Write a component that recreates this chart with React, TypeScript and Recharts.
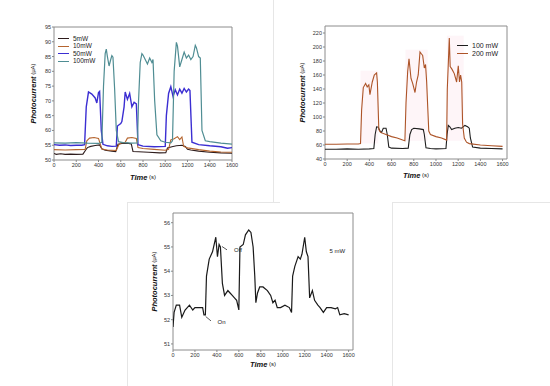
import { LineChart, Line, XAxis, YAxis, Legend, ReferenceArea, ReferenceLine, ReferenceDot } from 'recharts'

// panel A: photocurrent vs time at four powers, [time s, current µA]
const mw5A: [number, number][] = [
  [0, 52.2], [20, 51.9], [60, 52.1], [100, 51.9], [150, 52.0], [200, 51.9], [260, 52.0], [285, 53.4],
  [300, 54.2], [330, 54.6], [370, 54.9], [410, 55.1], [430, 53.8], [460, 53.3], [520, 53.0], [555, 52.8],
  [575, 55.3], [610, 55.6], [660, 55.7], [695, 55.4], [710, 52.9], [760, 52.8], [850, 52.6], [950, 52.4],
  [1005, 52.5], [1020, 54.1], [1060, 54.5], [1100, 54.8], [1150, 55.0], [1180, 54.6], [1200, 53.6],
  [1230, 53.4], [1300, 53.0], [1400, 52.6], [1500, 52.4], [1600, 52.3],
]
const mw10A: [number, number][] = [
  [0, 53.5], [100, 53.4], [200, 53.5], [280, 53.6], [295, 56.5], [320, 57.4], [360, 57.6], [400, 57.3],
  [415, 55.5], [430, 53.7], [480, 53.4], [560, 53.2], [580, 55.0], [600, 55.8], [640, 56.0], [660, 57.4],
  [700, 57.6], [740, 57.3], [755, 54.2], [800, 53.9], [900, 53.6], [1000, 53.3], [1030, 53.6], [1050, 56.8],
  [1080, 57.2], [1110, 57.9], [1130, 56.9], [1150, 57.8], [1165, 54.6], [1200, 54.1], [1300, 53.5],
  [1400, 53.0], [1500, 52.7], [1600, 52.6],
]
const mw50A: [number, number][] = [
  [0, 55.2], [50, 55.0], [100, 55.1], [150, 54.9], [200, 55.0], [250, 55.0], [275, 55.2], [290, 68],
  [310, 73], [340, 72.3], [370, 71], [385, 69.3], [400, 72.8], [410, 73.2], [425, 60], [440, 55.3],
  [480, 54.8], [520, 54.6], [560, 54.7], [570, 61.5], [600, 62.3], [610, 63], [630, 68], [640, 73],
  [660, 70.5], [680, 72.5], [700, 68], [720, 69.5], [740, 69], [755, 55.2], [800, 54.7], [900, 54.5],
  [1000, 54.6], [1010, 65], [1030, 72.5], [1050, 74.8], [1070, 71.5], [1090, 73.8], [1110, 72],
  [1130, 74], [1150, 72.6], [1170, 74.2], [1190, 73], [1210, 74], [1222, 73.5], [1240, 56],
  [1300, 55.2], [1400, 54.8], [1500, 54.5], [1560, 54], [1600, 54.2],
]
const mw100A: [number, number][] = [
  [0, 55.8], [100, 55.7], [200, 55.9], [300, 55.7], [400, 55.6], [430, 56], [445, 75], [460, 86],
  [470, 87.5], [480, 85], [495, 81.8], [510, 84], [520, 85.3], [530, 84.8], [545, 74], [560, 60],
  [580, 56.2], [620, 55.9], [700, 55.7], [750, 55.8], [760, 70], [775, 83], [790, 86], [800, 85.5],
  [820, 84], [840, 82.5], [860, 84.5], [880, 83], [890, 84], [905, 70], [925, 58.5], [960, 56.5],
  [1000, 56], [1050, 55.8], [1065, 56.5], [1080, 80], [1100, 89.8], [1110, 88.5], [1130, 81.5],
  [1150, 84], [1170, 86.5], [1190, 84.5], [1210, 85.5], [1230, 84], [1250, 85], [1270, 88.8],
  [1280, 88], [1300, 85], [1315, 84.5], [1330, 60], [1360, 56.5], [1400, 56.2], [1500, 55.7], [1600, 55.4],
]
const namesA = ['5mW', '10mW', '50mW', '100mW']

// panel B: 100 and 200 mW
const mw100B: [number, number][] = [
  [0, 54], [100, 54], [200, 54.5], [300, 54], [400, 54.5], [440, 55], [452, 75], [465, 86], [480, 85.5],
  [495, 80], [510, 78], [525, 84], [550, 84], [561, 75], [575, 57], [600, 55.5], [700, 55], [750, 55.5],
  [765, 75], [781, 82], [800, 84], [850, 83], [886, 82], [895, 75], [910, 56], [950, 55], [1000, 54.5],
  [1090, 55], [1100, 75], [1111, 88], [1125, 86], [1141, 82], [1170, 84], [1200, 85], [1230, 84],
  [1261, 88], [1285, 86], [1300, 84], [1310, 70], [1330, 57], [1400, 55.5], [1500, 55], [1600, 54.5],
]
const mw200B: [number, number][] = [
  [0, 61], [100, 61], [200, 61.5], [300, 61.5], [320, 62], [330, 110], [345, 142], [366, 148], [380, 143],
  [395, 146], [405, 132], [426, 150], [444, 160], [465, 163], [472, 150], [485, 82], [500, 78], [550, 75],
  [600, 72], [650, 70], [700, 67], [720, 66], [730, 120], [745, 165], [757, 183], [775, 155], [790, 148],
  [811, 135], [825, 150], [840, 160], [856, 193], [870, 190], [880, 188], [895, 170], [906, 175],
  [916, 150], [935, 80], [950, 75], [1000, 72], [1050, 70], [1096, 67], [1102, 140], [1112, 180],
  [1120, 213], [1128, 172], [1145, 168], [1165, 162], [1186, 150], [1201, 173], [1212, 150], [1222, 160],
  [1232, 150], [1240, 90], [1255, 70], [1275, 64], [1300, 62], [1400, 60], [1500, 59], [1600, 58],
]
const namesB = ['100 mW', '200 mW']

// panel C: 5 mW alone
const mw5C: [number, number][] = [
  [0, 51.7], [10, 52.3], [30, 52.6], [60, 52.6], [80, 52.1], [110, 52.4], [150, 52.6], [180, 52.4],
  [200, 52.5], [240, 52.5], [270, 52.5], [282, 52.2], [295, 52.2], [305, 53.8], [330, 54.5], [360, 54.8],
  [390, 55.4], [405, 54.6], [420, 55.1], [432, 55.0], [450, 53.5], [470, 53.0], [500, 53.2], [520, 53.1],
  [540, 53.0], [560, 52.9], [580, 52.8], [600, 52.4], [610, 55.0], [640, 55.1], [660, 55.5], [690, 55.7],
  [710, 55.6], [730, 55.0], [745, 53.8], [755, 52.7], [770, 53.1], [790, 53.35], [820, 53.35], [860, 53.2],
  [890, 53.0], [910, 52.7], [930, 52.8], [950, 52.5], [980, 52.5], [1020, 52.6], [1060, 52.5], [1080, 52.3],
  [1090, 53.8], [1110, 54.2], [1140, 54.6], [1160, 54.5], [1175, 54.7], [1200, 55.4], [1215, 54.8],
  [1230, 54.6], [1245, 52.9], [1270, 53.2], [1290, 52.8], [1320, 52.6], [1340, 52.5], [1370, 52.3],
  [1400, 52.5], [1440, 52.5], [1480, 52.45], [1500, 52.5], [1520, 52.2], [1560, 52.25], [1600, 52.2],
]

const timeTicks = [0, 200, 400, 600, 800, 1000, 1200, 1400, 1600]
const ticksA = [50, 55, 60, 65, 70, 75, 80, 85, 90, 95]
const ticksB = [40, 60, 80, 100, 120, 140, 160, 180, 200, 220]
const ticksC = [51, 52, 53, 54, 55, 56]

const toRows = (pts: [number, number][]) => pts.map(([t, v]) => ({ t, v }))

const FONT = '"Liberation Sans", Arial, sans-serif'
const tickStyle = { fontSize: 5.5, fill: '#333', fontFamily: FONT }

function YTitle(props: any) {
  const { viewBox, dx } = props
  const cx = viewBox.x + dx
  const cy = viewBox.y + viewBox.height / 2
  return (
    <text x={cx} y={cy} transform={`rotate(-90 ${cx} ${cy})`} textAnchor="middle" dominantBaseline="central"
      fontFamily={FONT} fill="#111">
      <tspan fontSize={7.5} fontWeight="bold" fontStyle="italic">Photocurrent</tspan>
      <tspan fontSize={6}> (μA)</tspan>
    </text>
  )
}

function XTitle(props: any) {
  const { viewBox, dy } = props
  return (
    <text x={viewBox.x + viewBox.width / 2} y={viewBox.y + dy} textAnchor="middle" dominantBaseline="central"
      fontFamily={FONT} fill="#111">
      <tspan fontSize={7.5} fontWeight="bold" fontStyle="italic">Time</tspan>
      <tspan fontSize={6}> (s)</tspan>
    </text>
  )
}

// legend rows kept in series order
function KeyList({ payload, order, rowH, len, fontSize }: any) {
  const items = [...(payload || [])].sort((a: any, b: any) => order.indexOf(a.value) - order.indexOf(b.value))
  return (
    <div style={{ fontFamily: FONT }}>
      {items.map((p: any) => (
        <div key={p.value} style={{ display: 'flex', alignItems: 'center', height: rowH }}>
          <span style={{ width: len, borderTop: `1.3px solid ${p.color}`, marginRight: 4 }} />
          <span style={{ fontSize, color: '#222', lineHeight: 1 }}>{p.value}</span>
        </div>
      ))}
    </div>
  )
}

const frame = { fill: 'none', stroke: '#8c8c8c', strokeWidth: 1 }
const haze = { fill: '#fce9ef', fillOpacity: 0.45, stroke: 'none' }

export default function App() {
  return (
    <div style={{ position: 'absolute', left: 0, top: 0, width: 550, height: 386, background: '#fff', fontFamily: FONT }}>
      {/* faint panel borders */}
      <div style={{ position: 'absolute', left: 273, top: 0, width: 1, height: 202, background: '#e6e6e6' }} />
      <div style={{ position: 'absolute', left: 127, top: 202, width: 153, height: 1, background: '#e6e6e6' }} />
      <div style={{ position: 'absolute', left: 392, top: 202, width: 158, height: 1, background: '#e6e6e6' }} />
      <div style={{ position: 'absolute', left: 127, top: 202, width: 1, height: 184, background: '#e6e6e6' }} />
      <div style={{ position: 'absolute', left: 392, top: 202, width: 1, height: 184, background: '#e6e6e6' }} />

      <div style={{ position: 'absolute', left: 0, top: 0 }}>
        <LineChart width={275} height={190} margin={{ top: 27, right: 43, bottom: 10, left: 34 }}>
          <XAxis dataKey="t" type="number" domain={[0, 1600]} ticks={timeTicks} allowDataOverflow
            tick={tickStyle} tickSize={2} tickMargin={1} axisLine={false} tickLine={{ stroke: '#888' }}
            height={20} label={(p: any) => <XTitle {...p} dy={17} />} />
          <YAxis type="number" domain={[50, 95]} ticks={ticksA} allowDataOverflow width={20}
            tick={tickStyle} tickSize={2} tickMargin={1} axisLine={false} tickLine={{ stroke: '#888' }}
            label={(p: any) => <YTitle {...p} dx={-1} />} />
          <ReferenceArea x1={0} x2={1600} y1={50} y2={95} {...frame} />
          <Legend layout="vertical" align="center" verticalAlign="middle"
            wrapperStyle={{ left: 58, top: 35, width: 'auto' }}
            content={(p: any) => <KeyList {...p} order={namesA} rowH={7.5} len={11} fontSize={6.5} />} />
          <Line data={toRows(mw5A)} dataKey="v" name={namesA[0]} stroke="#2e1c1c" strokeWidth={1.1} dot={false} isAnimationActive={false} />
          <Line data={toRows(mw10A)} dataKey="v" name={namesA[1]} stroke="#b5652f" strokeWidth={1.1} dot={false} isAnimationActive={false} />
          <Line data={toRows(mw50A)} dataKey="v" name={namesA[2]} stroke="#3b2ed2" strokeWidth={1.4} dot={false} isAnimationActive={false} />
          <Line data={toRows(mw100A)} dataKey="v" name={namesA[3]} stroke="#4f8d93" strokeWidth={1.2} dot={false} isAnimationActive={false} />
        </LineChart>
      </div>

      <div style={{ position: 'absolute', left: 275, top: 0 }}>
        <LineChart width={275} height={190} margin={{ top: 26, right: 43, bottom: 11, left: 30 }}>
          <XAxis dataKey="t" type="number" domain={[0, 1640]} ticks={timeTicks} allowDataOverflow
            tick={tickStyle} tickSize={2} tickMargin={1} axisLine={false} tickLine={{ stroke: '#888' }}
            height={20} label={(p: any) => <XTitle {...p} dy={16} />} />
          <YAxis type="number" domain={[40, 230]} ticks={ticksB} allowDataOverflow width={20}
            tick={tickStyle} tickSize={2} tickMargin={1} axisLine={false} tickLine={{ stroke: '#888' }}
            label={(p: any) => <YTitle {...p} dx={-3} />} />
          <ReferenceArea x1={320} x2={480} y1={62} y2={166} {...haze} />
          <ReferenceArea x1={725} x2={925} y1={66} y2={196} {...haze} />
          <ReferenceArea x1={1098} x2={1250} y1={66} y2={216} {...haze} />
          <ReferenceArea x1={0} x2={1640} y1={40} y2={230} {...frame} />
          <Legend layout="vertical" align="center" verticalAlign="middle"
            wrapperStyle={{ left: 182, top: 42, width: 'auto' }}
            content={(p: any) => <KeyList {...p} order={namesB} rowH={7.4} len={11} fontSize={7} />} />
          <Line data={toRows(mw100B)} dataKey="v" name={namesB[0]} stroke="#1e1e1e" strokeWidth={1.1} dot={false} isAnimationActive={false} />
          <Line data={toRows(mw200B)} dataKey="v" name={namesB[1]} stroke="#ad5428" strokeWidth={1.1} dot={false} isAnimationActive={false} />
        </LineChart>
      </div>

      <div style={{ position: 'absolute', left: 127, top: 200 }}>
        <LineChart width={265} height={186} margin={{ top: 13, right: 39, bottom: 16, left: 26 }}>
          <XAxis dataKey="t" type="number" domain={[0, 1640]} ticks={timeTicks} allowDataOverflow
            tick={tickStyle} tickSize={2} tickMargin={1} axisLine={false} tickLine={{ stroke: '#888' }}
            height={20} label={(p: any) => <XTitle {...p} dy={14} />} />
          <YAxis type="number" domain={[50.75, 56.4]} ticks={ticksC} allowDataOverflow width={20}
            tick={tickStyle} tickSize={2} tickMargin={1} axisLine={false} tickLine={{ stroke: '#888' }}
            label={(p: any) => <YTitle {...p} dx={1} />} />
          <ReferenceArea x1={0} x2={1640} y1={50.75} y2={56.4} {...frame} />
          <ReferenceLine segment={[{ x: 446, y: 55.02 }, { x: 492, y: 54.88 }]} stroke="#333" strokeWidth={0.8} />
          <ReferenceLine segment={[{ x: 298, y: 52.13 }, { x: 346, y: 51.95 }]} stroke="#333" strokeWidth={0.8} />
          <ReferenceDot x={510} y={54.88} r={0} fill="none" stroke="none"
            label={{ value: 'Off', position: 'right', fontSize: 6, fill: '#222', fontFamily: FONT }} />
          <ReferenceDot x={360} y={51.9} r={0} fill="none" stroke="none"
            label={{ value: 'On', position: 'right', fontSize: 6, fill: '#222', fontFamily: FONT }} />
          <ReferenceDot x={1380} y={54.82} r={0} fill="none" stroke="none"
            label={{ value: '5 mW', position: 'right', fontSize: 6, fill: '#222', fontFamily: FONT }} />
          <Line data={toRows(mw5C)} dataKey="v" name="5 mW" stroke="#1a1a1a" strokeWidth={1.2} dot={false} isAnimationActive={false} />
        </LineChart>
      </div>
    </div>
  )
}
